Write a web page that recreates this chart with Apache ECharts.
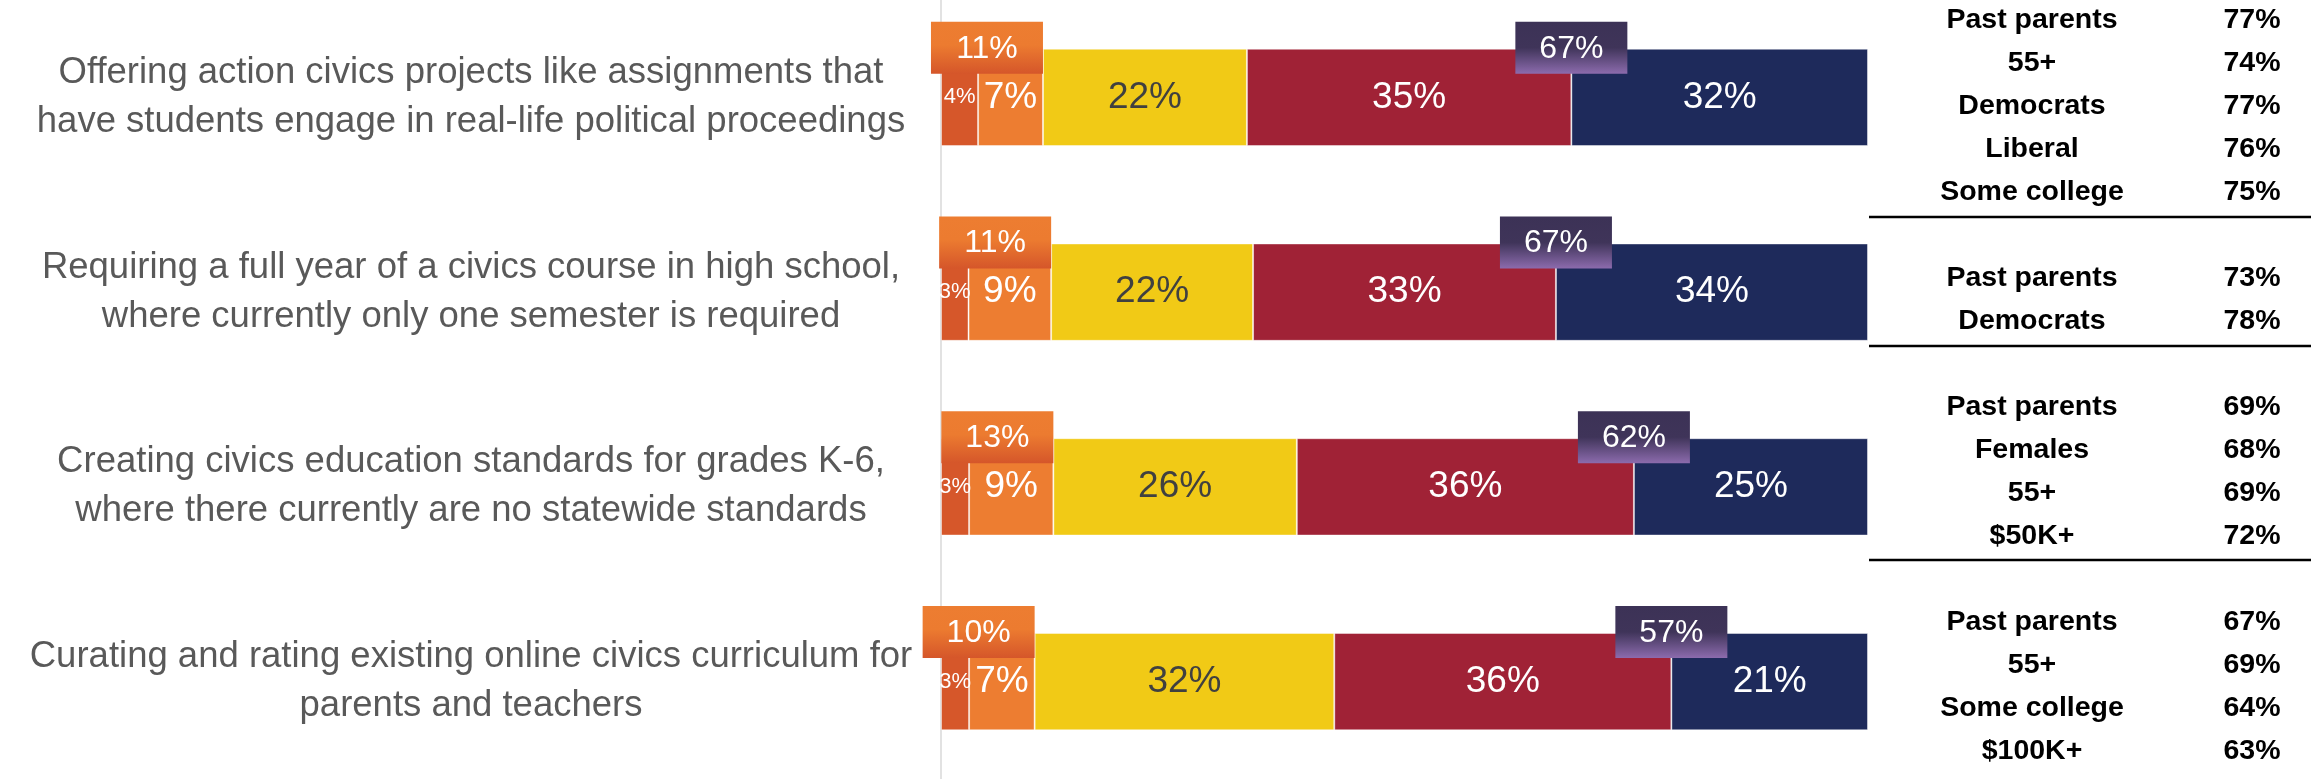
<!DOCTYPE html>
<html>
<head>
<meta charset="utf-8">
<title>Civics education proposals</title>
<script src="https://cdn.jsdelivr.net/npm/echarts@6/dist/echarts.min.js"></script>
<style>
  html, body { margin: 0; padding: 0; background: #fff; }
  #chart { width: 2323px; height: 779px; }
</style>
</head>
<body>
<div id="chart"></div>
<script>
// ---- data ----
const categories = [
  'Offering action civics projects like assignments that\nhave students engage in real-life political proceedings',
  'Requiring a full year of a civics course in high school,\nwhere currently only one semester is required',
  'Creating civics education standards for grades K-6,\nwhere there currently are no statewide standards',
  'Curating and rating existing online civics curriculum for\nparents and teachers'
];
const stronglyOppose  = [4, 3, 3, 3];
const somewhatOppose  = [7, 9, 9, 7];
const neutral         = [22, 22, 26, 32];
const somewhatSupport = [35, 33, 36, 36];
const stronglySupport = [32, 34, 25, 21];
const opposeTotal     = [11, 11, 13, 10];
const supportTotal    = [67, 67, 62, 57];

const subgroupNames = [
  ['Past parents', '55+', 'Democrats', 'Liberal', 'Some college'],
  ['Past parents', 'Democrats'],
  ['Past parents', 'Females', '55+', '$50K+'],
  ['Past parents', '55+', 'Some college', '$100K+']
];
const subgroupValues = [
  [77, 74, 77, 76, 75],
  [73, 78],
  [69, 68, 69, 72],
  [67, 69, 64, 63]
];

// ---- layout / style ----
const FONT = "'Liberation Sans', Arial, sans-serif";
const tableFirstRowY = [20, 278, 407, 622];
const tableRowGap = 43;
const tableRuleY = [217, 346, 560];

// rows are drawn as 100% bars (printed values are rounded)
const rowTotal = categories.map((c, i) =>
  stronglyOppose[i] + somewhatOppose[i] + neutral[i] + somewhatSupport[i] + stronglySupport[i]);
const toShare = arr => arr.map((v, i) => v / rowTotal[i] * 100);

const segments = [
  { name: 'Strongly oppose', values: stronglyOppose, color: '#D6572A', text: '#ffffff', size: 22 },
  { name: 'Somewhat oppose', values: somewhatOppose, color: '#ED7D31', text: '#ffffff', size: 37 },
  { name: 'Neutral', values: neutral, color: '#F1CA16', text: '#404040', size: 37 },
  { name: 'Somewhat support', values: somewhatSupport, color: '#A02236', text: '#ffffff', size: 37 },
  { name: 'Strongly support', values: stronglySupport, color: '#1E2A5B', text: '#ffffff', size: 37 }
];

const barSeries = segments.map(s => ({
  name: s.name,
  type: 'bar',
  stack: 'total',
  barWidth: '50%',
  data: toShare(s.values),
  itemStyle: { color: s.color, borderColor: 'rgba(255,255,255,0.45)', borderWidth: 1 },
  label: {
    show: true,
    position: 'inside',
    color: s.text,
    fontSize: s.size,
    fontFamily: FONT,
    formatter: p => s.values[p.dataIndex] + '%'
  }
}));

const opposeGradient = () => new echarts.graphic.LinearGradient(0, 0, 0, 1, [
  { offset: 0, color: '#ED7D31' },
  { offset: 0.45, color: '#EC7B30' },
  { offset: 1, color: '#D5562A' }
]);
const supportGradient = () => new echarts.graphic.LinearGradient(0, 0, 0, 1, [
  { offset: 0, color: '#3C3256' },
  { offset: 0.5, color: '#3F3459' },
  { offset: 1, color: '#8C6BAD' }
]);

// net boxes sitting on top edge of each bar
function netBox(anchor, fill) {
  return function (params, api) {
    const pt = api.coord([api.value(0), api.value(1)]);
    const band = api.size([0, 1])[1];
    const cy = pt[1] - band * 0.25 - 1;
    const w = 112, h = 52;
    const x = anchor === 'right' ? pt[0] - w : pt[0] - w / 2;
    return {
      type: 'group',
      children: [
        { type: 'rect', shape: { x: x, y: cy - h / 2, width: w, height: h }, style: { fill: fill() } },
        { type: 'text', style: {
            text: api.value(2) + '%', x: x + w / 2, y: cy + 1,
            align: 'center', verticalAlign: 'middle',
            fill: '#ffffff', fontSize: 32, fontFamily: FONT } }
      ]
    };
  };
}

const opposeEnd = toShare(stronglyOppose.map((v, i) => v + somewhatOppose[i]));
const supportStart = toShare(stronglyOppose.map((v, i) => v + somewhatOppose[i] + neutral[i] + somewhatSupport[i]));

const boxSeries = [
  {
    type: 'custom', z: 5, encode: { x: 0, y: 1 },
    renderItem: netBox('right', opposeGradient),
    data: opposeTotal.map((v, i) => [opposeEnd[i], i, v])
  },
  {
    type: 'custom', z: 5, encode: { x: 0, y: 1 },
    renderItem: netBox('center', supportGradient),
    data: supportTotal.map((v, i) => [supportStart[i], i, v])
  }
];

// subgroup table on the right
const tableGraphics = [];
subgroupNames.forEach((names, g) => {
  names.forEach((n, r) => {
    const y = tableFirstRowY[g] + r * tableRowGap;
    tableGraphics.push({ type: 'text', x: 2032, y: y, style: {
      text: n, align: 'center', verticalAlign: 'middle', fill: '#000', fontSize: 28.5, fontWeight: 'bold', fontFamily: FONT } });
    tableGraphics.push({ type: 'text', x: 2252, y: y, style: {
      text: subgroupValues[g][r] + '%', align: 'center', verticalAlign: 'middle', fill: '#000', fontSize: 28.5, fontWeight: 'bold', fontFamily: FONT } });
  });
});
tableRuleY.forEach(y => {
  tableGraphics.push({ type: 'line', shape: { x1: 1869, y1: y, x2: 2311, y2: y }, style: { stroke: '#000', lineWidth: 2.5 } });
});

const chart = echarts.init(document.getElementById('chart'));
chart.setOption({
  backgroundColor: '#ffffff',
  animation: false,
  grid: { left: 941, right: 455, top: -1.3, bottom: -5.4, containLabel: false },
  xAxis: {
    type: 'value', min: 0, max: 100,
    axisLine: { show: false }, axisTick: { show: false },
    axisLabel: { show: false }, splitLine: { show: false }
  },
  yAxis: {
    type: 'category',
    inverse: true,
    data: categories,
    axisLine: { show: true, lineStyle: { color: '#D9D9D9', width: 1.5 } },
    axisTick: { show: false },
    axisLabel: {
      align: 'center',
      margin: 470,
      fontSize: 36.5,
      lineHeight: 49,
      color: '#595959',
      fontFamily: FONT
    }
  },
  series: barSeries.concat(boxSeries),
  graphic: tableGraphics
});
</script>
</body>
</html>
